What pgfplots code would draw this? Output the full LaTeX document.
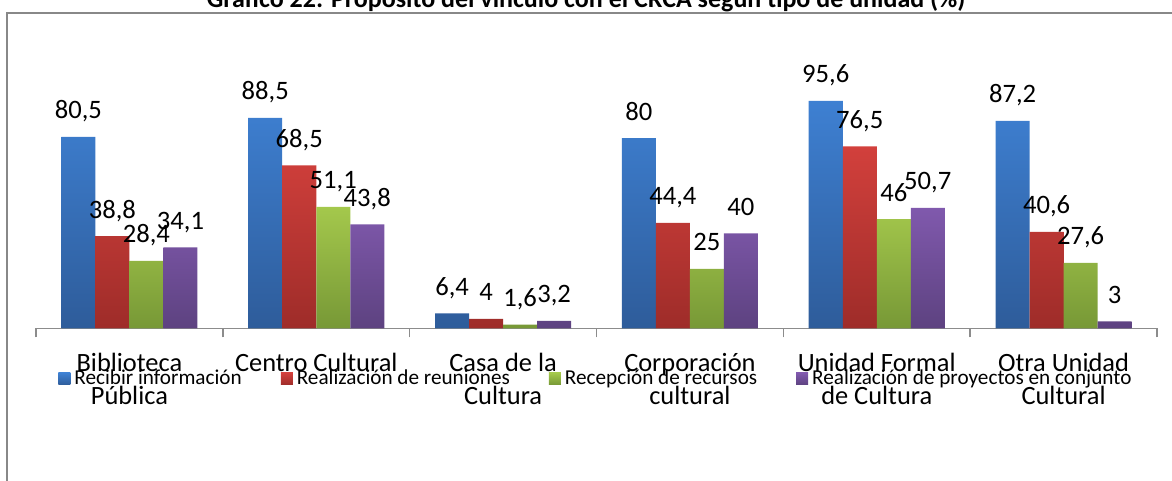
\documentclass[border=0pt]{standalone}
\usepackage{pgfplots}
\pgfplotsset{compat=1.18}
\usepackage{fontspec}
\setmainfont{Carlito}
\definecolor{bT}{HTML}{3E80D2}
\definecolor{bB}{HTML}{2E5C9A}
\definecolor{rT}{HTML}{D2403C}
\definecolor{rB}{HTML}{9E2C29}
\definecolor{gT}{HTML}{A4C84C}
\definecolor{gB}{HTML}{779836}
\definecolor{pT}{HTML}{8059AD}
\definecolor{pB}{HTML}{5D4280}
\definecolor{frameGray}{HTML}{888888}
\definecolor{axGray}{HTML}{8C8C8C}
\begin{document}
\begin{tikzpicture}
\useasboundingbox (0,0) rectangle (586pt,240.5pt);
\draw[color=frameGray, line width=0.75pt] (3.5pt,-20pt) rectangle (620pt,234pt);
\node[anchor=base, inner sep=0pt, font=\bfseries\fontsize{13}{15}\selectfont] at (293pt,236.75pt) {Gráfico 22: Propósito del vínculo con el CRCA según tipo de unidad (\%)};
\begin{axis}[
  at={(18pt,76.25pt)}, anchor=south west,
  scale only axis, width=560.5pt, height=119pt,
  xmin=-0.5, xmax=5.5, ymin=0, ymax=100,
  clip=false,
  ybar=0pt, bar width=0.182,
  axis y line=none,
  axis x line*=bottom,
  x axis line style={-, color=axGray, line width=0.7pt},
  xtick={0,1,2,3,4,5},
  xticklabels={{Biblioteca\\Pública},{Centro Cultural},{Casa de la\\Cultura},{Corporación\\cultural},{Unidad Formal\\de Cultura},{Otra Unidad\\Cultural}},
  xticklabel style={align=center, font=\fontsize{13.2}{16.3}\selectfont, yshift=-9pt},
  major tick length=0pt,
  minor xtick={-0.5,0.5,1.5,2.5,3.5,4.5,5.5},
  minor tick length=4.5pt,
  tick align=outside,
  xtick pos=bottom,
  minor tick style={color=axGray, line width=0.7pt},
  ytick=\empty,
  nodes near coords,
  /pgf/number format/use comma,
  /pgf/number format/assume math mode=true,
  every node near coord/.append style={font=\fontsize{13.3}{16}\selectfont, text depth=0pt, inner sep=0pt, yshift=9pt, anchor=base, color=black},
  legend columns=4,
  legend style={at={(0.0196,-0.212)}, anchor=west, draw=none, fill=none, inner sep=0pt,
    font=\fontsize{10.6}{12.8}\selectfont,
    /tikz/every even column/.append style={column sep=17.5pt}},
  legend image code/.code={\path[#1, draw=none] (0pt,-3pt) rectangle (6pt,3pt);},
]
\addplot[bar shift=-0.273, draw=none, top color=bT, bottom color=bB] coordinates {(0,80.5) (1,88.5) (2,6.4) (3,80) (4,95.6) (5,87.2)};
\addplot[bar shift=-0.091, draw=none, top color=rT, bottom color=rB] coordinates {(0,38.8) (1,68.5) (2,4) (3,44.4) (4,76.5) (5,40.6)};
\addplot[bar shift=0.091, draw=none, top color=gT, bottom color=gB] coordinates {(0,28.4) (1,51.1) (2,1.6) (3,25) (4,46) (5,27.6)};
\addplot[bar shift=0.273, draw=none, top color=pT, bottom color=pB] coordinates {(0,34.1) (1,43.8) (2,3.2) (3,40) (4,50.7) (5,3)};
\legend{Recibir información, Realización de reuniones, Recepción de recursos, Realización de proyectos en conjunto}
\end{axis}
\end{tikzpicture}
\end{document}
